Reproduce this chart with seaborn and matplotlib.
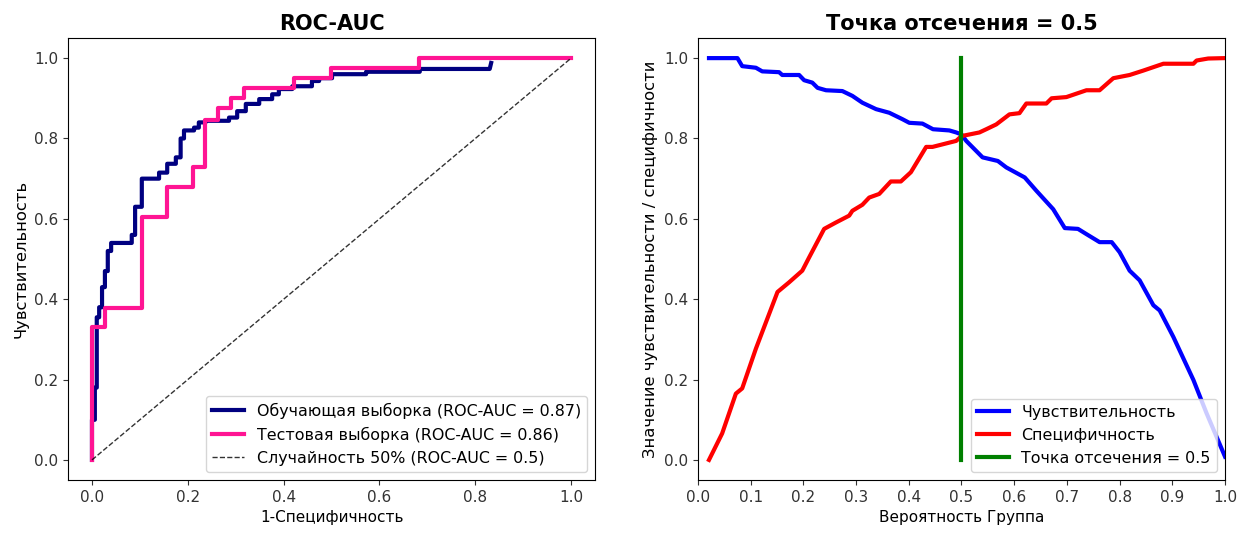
import matplotlib
matplotlib.use("Agg")
import matplotlib.pyplot as plt
import seaborn as sns

# ROC curve corners (false positive rate / true positive rate)
train_fpr = [0.000, 0.000, 0.006, 0.006, 0.010, 0.010, 0.015, 0.015, 0.021, 0.021,
             0.027, 0.027, 0.033, 0.033, 0.040, 0.040, 0.083, 0.083, 0.090, 0.090,
             0.104, 0.104, 0.140, 0.140, 0.157, 0.157, 0.175, 0.175, 0.185, 0.185,
             0.192, 0.192, 0.213, 0.213, 0.223, 0.223, 0.237, 0.237, 0.286, 0.286,
             0.303, 0.303, 0.321, 0.321, 0.349, 0.349, 0.376, 0.376, 0.390, 0.390,
             0.418, 0.418, 0.459, 0.459, 0.474, 0.474, 0.501, 0.501, 0.572, 0.572,
             0.684, 0.684, 0.830, 0.833]
train_tpr = [0.000, 0.100, 0.100, 0.180, 0.180, 0.355, 0.355, 0.380, 0.380, 0.430,
             0.430, 0.470, 0.470, 0.520, 0.520, 0.540, 0.540, 0.560, 0.560, 0.630,
             0.630, 0.700, 0.700, 0.715, 0.715, 0.737, 0.737, 0.753, 0.753, 0.800,
             0.800, 0.820, 0.820, 0.827, 0.827, 0.840, 0.840, 0.844, 0.844, 0.852,
             0.852, 0.868, 0.868, 0.886, 0.886, 0.898, 0.898, 0.910, 0.910, 0.923,
             0.923, 0.930, 0.930, 0.943, 0.943, 0.950, 0.950, 0.960, 0.960, 0.966,
             0.966, 0.973, 0.973, 0.988]

test_fpr = [0.000, 0.000, 0.028, 0.028, 0.105, 0.105, 0.157, 0.157, 0.210, 0.210,
            0.236, 0.236, 0.262, 0.262, 0.290, 0.290, 0.317, 0.317, 0.422, 0.422,
            0.498, 0.498, 0.683, 0.683, 1.000]
test_tpr = [0.000, 0.331, 0.331, 0.377, 0.377, 0.604, 0.604, 0.678, 0.678, 0.728,
            0.728, 0.846, 0.846, 0.877, 0.877, 0.900, 0.900, 0.926, 0.926, 0.951,
            0.951, 0.976, 0.976, 1.000, 1.000]

chance = [0.0, 1.0]
auc_train, auc_test, auc_chance = 0.87, 0.86, 0.5

# Sensitivity and specificity against the probability threshold
sens_thr = [0.021, 0.075, 0.084, 0.110, 0.122, 0.154, 0.160, 0.192, 0.2015, 0.217,
            0.227, 0.243, 0.274, 0.293, 0.312, 0.338, 0.363, 0.388, 0.401, 0.426,
            0.446, 0.477, 0.490, 0.500, 0.509, 0.540, 0.569, 0.585, 0.620, 0.642,
            0.674, 0.696, 0.721, 0.737, 0.762, 0.785, 0.800, 0.819, 0.838, 0.864,
            0.876, 0.902, 0.940, 0.965, 1.000]
sens = [1.000, 1.000, 0.980, 0.976, 0.967, 0.965, 0.958, 0.958, 0.945, 0.939,
        0.926, 0.920, 0.918, 0.906, 0.889, 0.873, 0.864, 0.848, 0.839, 0.837,
        0.823, 0.820, 0.815, 0.810, 0.794, 0.753, 0.744, 0.728, 0.703, 0.670,
        0.624, 0.577, 0.575, 0.562, 0.542, 0.542, 0.517, 0.471, 0.447, 0.385,
        0.372, 0.306, 0.199, 0.116, 0.008]

spec_thr = [0.021, 0.046, 0.072, 0.084, 0.110, 0.151, 0.173, 0.198, 0.211, 0.2395,
            0.262, 0.287, 0.293, 0.312, 0.325, 0.344, 0.366, 0.385, 0.404, 0.433,
            0.445, 0.490, 0.500, 0.534, 0.547, 0.566, 0.591, 0.610, 0.623, 0.661,
            0.671, 0.699, 0.737, 0.762, 0.788, 0.819, 0.845, 0.883, 0.940, 0.946,
            0.968, 1.000]
spec = [0.000, 0.066, 0.165, 0.178, 0.277, 0.418, 0.442, 0.471, 0.504, 0.575,
        0.591, 0.608, 0.620, 0.635, 0.653, 0.662, 0.693, 0.693, 0.716, 0.779,
        0.779, 0.794, 0.806, 0.815, 0.823, 0.835, 0.860, 0.863, 0.887, 0.887,
        0.900, 0.903, 0.920, 0.920, 0.950, 0.958, 0.969, 0.986, 0.986, 0.994,
        0.999, 1.000]

cutoff = 0.5
cut_y = [0.0, 1.0]

plt.rcParams["xtick.labelsize"] = 11
plt.rcParams["ytick.labelsize"] = 11
plt.rcParams["xtick.color"] = "#333333"
plt.rcParams["ytick.color"] = "#333333"

fig, (ax1, ax2) = plt.subplots(1, 2, figsize=(12.48, 5.34), dpi=100)
fig.subplots_adjust(left=0.0545, right=0.9816, bottom=0.1011, top=0.9288, wspace=0.195)

LEG_FS = 11.4
XL_FS = 11
YL_FS = 11.8
TITLE_FS = 15

# Left panel: ROC curves
sns.lineplot(x=train_fpr, y=train_tpr, sort=False, estimator=None, ax=ax1,
             color="navy", lw=3,
             label=f"Обучающая выборка (ROC-AUC = {auc_train})")
sns.lineplot(x=test_fpr, y=test_tpr, sort=False, estimator=None, ax=ax1,
             color="deeppink", lw=3,
             label=f"Тестовая выборка (ROC-AUC = {auc_test})")
sns.lineplot(x=chance, y=chance, sort=False, estimator=None, ax=ax1,
             color="black", lw=1, linestyle="--", alpha=0.8,
             label=f"Случайность 50% (ROC-AUC = {auc_chance})")
ax1.set_title("ROC-AUC", fontsize=TITLE_FS, fontweight="bold")
ax1.set_xlabel("1-Специфичность", fontsize=XL_FS)
ax1.set_ylabel("Чувствительность", fontsize=YL_FS)
ax1.legend(loc="lower right", fontsize=LEG_FS)

# Right panel: sensitivity / specificity trade-off
sns.lineplot(x=sens_thr, y=sens, sort=False, estimator=None, ax=ax2,
             color="blue", lw=3, label="Чувствительность")
sns.lineplot(x=spec_thr, y=spec, sort=False, estimator=None, ax=ax2,
             color="red", lw=3, label="Специфичность")
sns.lineplot(x=[cutoff, cutoff], y=cut_y, sort=False, estimator=None, ax=ax2,
             color="green", lw=3, label=f"Точка отсечения = {cutoff}")
ax2.set_xlim(0, 1)
ax2.set_xticks([i / 10 for i in range(11)])
ax2.set_title(f"Точка отсечения = {cutoff}", fontsize=TITLE_FS, fontweight="bold")
ax2.set_xlabel("Вероятность Группа", fontsize=XL_FS)
ax2.set_ylabel("Значение чувствительности / специфичности", fontsize=YL_FS)
ax2.legend(loc="lower right", fontsize=LEG_FS)

fig.savefig("out.png", dpi=100)
